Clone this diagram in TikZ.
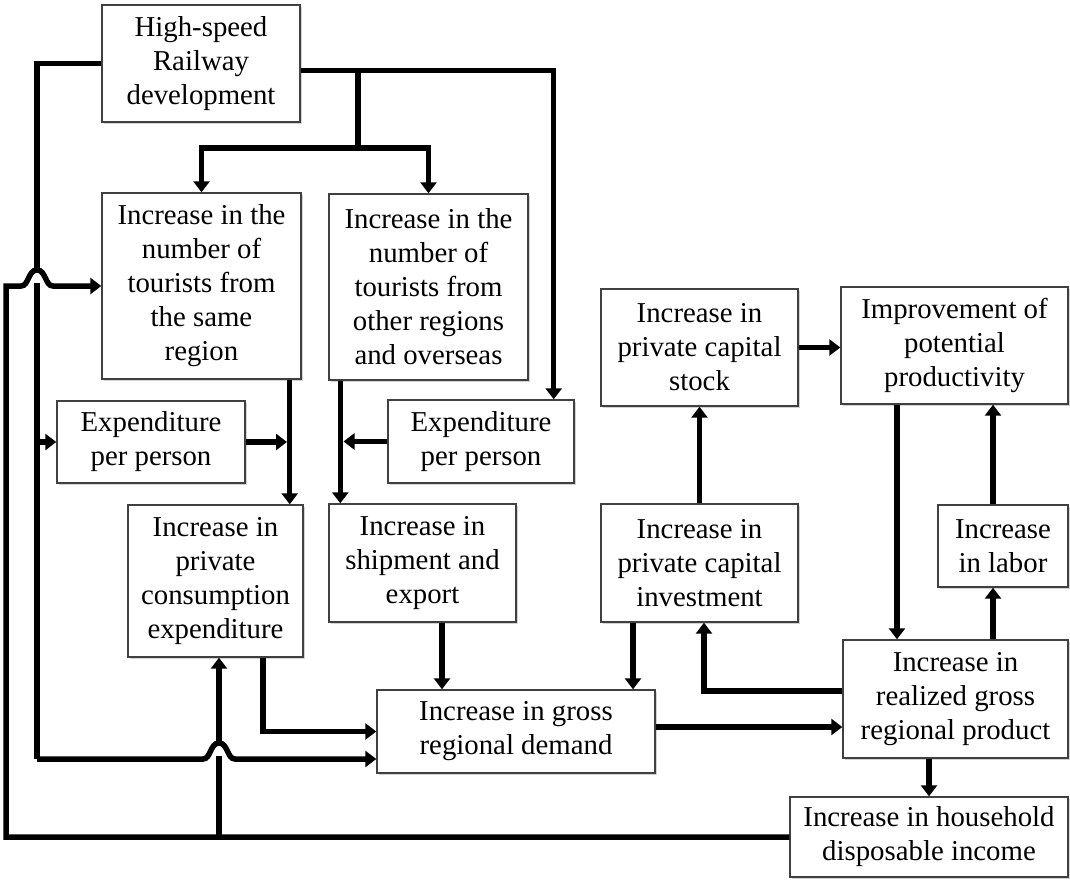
\documentclass[tikz,border=0pt]{standalone}
\usepackage{fontspec}
\setmainfont{Liberation Serif}
\usetikzlibrary{arrows.meta,shadows}
\begin{document}
\begin{tikzpicture}[x=1pt,y=-1pt,
  box/.style={draw=black!75, line width=1.4pt, fill=white, inner sep=0pt, align=center,
    font=\fontsize{28.8}{34}\selectfont,
    drop shadow={shadow xshift=1.8pt, shadow yshift=-1.8pt, opacity=0.35}},
  conn/.style={line width=5.5pt, black},
  arr/.style={conn, -{Triangle[length=11pt,width=16pt]}},
  hidegap/.style={fill=white}
]
\useasboundingbox (0,0) rectangle (1070,880);

% nodes
\node[box, minimum width=198pt, minimum height=117pt] (hsr) at (201,63.5) {High-speed\\Railway\\development};
\node[box, minimum width=199pt, minimum height=186pt] (t1) at (201.5,286) {Increase in the\\number of\\tourists from\\the same\\region};
\node[box, minimum width=199pt, minimum height=186pt] (t2) at (428.5,287) {Increase in the\\number of\\tourists from\\other regions\\and overseas};
\node[box, minimum width=188pt, minimum height=82pt] (expl) at (151,442) {Expenditure\\per person};
\node[box, minimum width=186pt, minimum height=83pt] (expr) at (481,441.5) {Expenditure\\per person};
\node[box, minimum width=175pt, minimum height=152pt] (cons) at (215.5,581) {Increase in\\private\\consumption\\expenditure};
\node[box, minimum width=187pt, minimum height=118pt] (ship) at (422.5,563) {Increase in\\shipment and\\export};
\node[box, minimum width=197pt, minimum height=118pt] (inv) at (699.5,563) {Increase in\\private capital\\investment};
\node[box, minimum width=197pt, minimum height=117pt] (stock) at (699.5,347.5) {Increase in\\private capital\\stock};
\node[box, minimum width=227pt, minimum height=117pt] (imp) at (954.5,345.5) {Improvement of\\potential\\productivity};
\node[box, minimum width=130pt, minimum height=82pt] (labor) at (1003,546) {Increase\\in labor};
\node[box, minimum width=278pt, minimum height=83pt] (grd) at (516,731.5) {Increase in gross\\regional demand};
\node[box, minimum width=225pt, minimum height=118pt] (grp) at (955.5,699) {Increase in\\realized gross\\regional product};
\node[box, minimum width=278pt, minimum height=80pt] (hh) at (929,837) {Increase in household\\disposable income};

% helper coordinates
\coordinate (j0) at (358,71);
\coordinate (j1) at (358,148);
\coordinate (a1) at ([xshift=-12pt]t1.south east);
\coordinate (a2) at ([xshift=12pt]t2.south west);
\coordinate (a3) at ([xshift=19.5pt]ship.south);
\coordinate (a4) at ([xshift=-66.5pt]inv.south);
\coordinate (a5) at ([xshift=-57.5pt]imp.south);
\coordinate (a6) at ([xshift=-10pt]labor.north);
\coordinate (a7) at ([xshift=-10pt]labor.south);
\coordinate (a8) at ([xshift=-26.5pt]grp.south);
\coordinate (b1) at (37,442);
\coordinate (b2) at (219,837);

% HSR right branch
\draw[arr] ([yshift=-7pt]hsr.east) -| ([xshift=-21pt]expr.north east);
\draw[conn] (j0) -- (j1);
\draw[arr] (j1) -| (t1.north);
\draw[arr] (j1) -| (t2.north);

% HSR left branch to GRD and ExpL
\draw[conn] (hsr.west) -| (37,759);
\draw[arr] (b1) -- (expl.west);

% household income feedback
\draw[arr] (b2) -- (b2 |- cons.south);
\fill[hidegap] (213,746) rectangle (225,756);
\fill[hidegap] (31,273) rectangle (43,283);
\draw[conn, -{Triangle[length=11pt,width=16pt]}] (37,759) -- (203,759) .. controls (211,759) and (210,743) .. (219,743) .. controls (228,743) and (227,759) .. (235,759) -- ([yshift=-27.5pt]grd.west);
\draw[arr] (hh.west) -| (6,286) -- (21,286) .. controls (29,286) and (28,270) .. (37,270) .. controls (46,270) and (45,286) .. (53,286) -- (t1.west);

% tourists to expenditures
\draw[arr] (a1) -- (a1 |- cons.north);
\draw[arr] (expl.east) -- (287,442);
\draw[arr] (a2) -- (a2 |- ship.north);
\draw[arr] (expr.west) -- (343.5,441.5);

% into GRD
\draw[arr] ([xshift=47.5pt]cons.south) |- (grd.west);
\draw[arr] (a3) -- (a3 |- grd.north);
\draw[arr] (a4) -- (a4 |- grd.north);

% right part
\draw[arr] (inv.north) -- (stock.south);
\draw[arr] (stock.east) -- (stock.east -| imp.west);
\draw[arr] (a5) -- (a5 |- grp.north);
\draw[arr] (a6) -- (a6 |- imp.south);
\draw[arr] (a7 |- grp.north) -- (a7);
\draw[arr] ([yshift=8pt]grp.west) -| ([xshift=4.5pt]inv.south);
\draw[arr] ([yshift=4.5pt]grd.east) -- ([yshift=4.5pt]grd.east -| grp.west);
\draw[arr] (a8) -- (a8 |- hh.north);
\end{tikzpicture}
\end{document}
